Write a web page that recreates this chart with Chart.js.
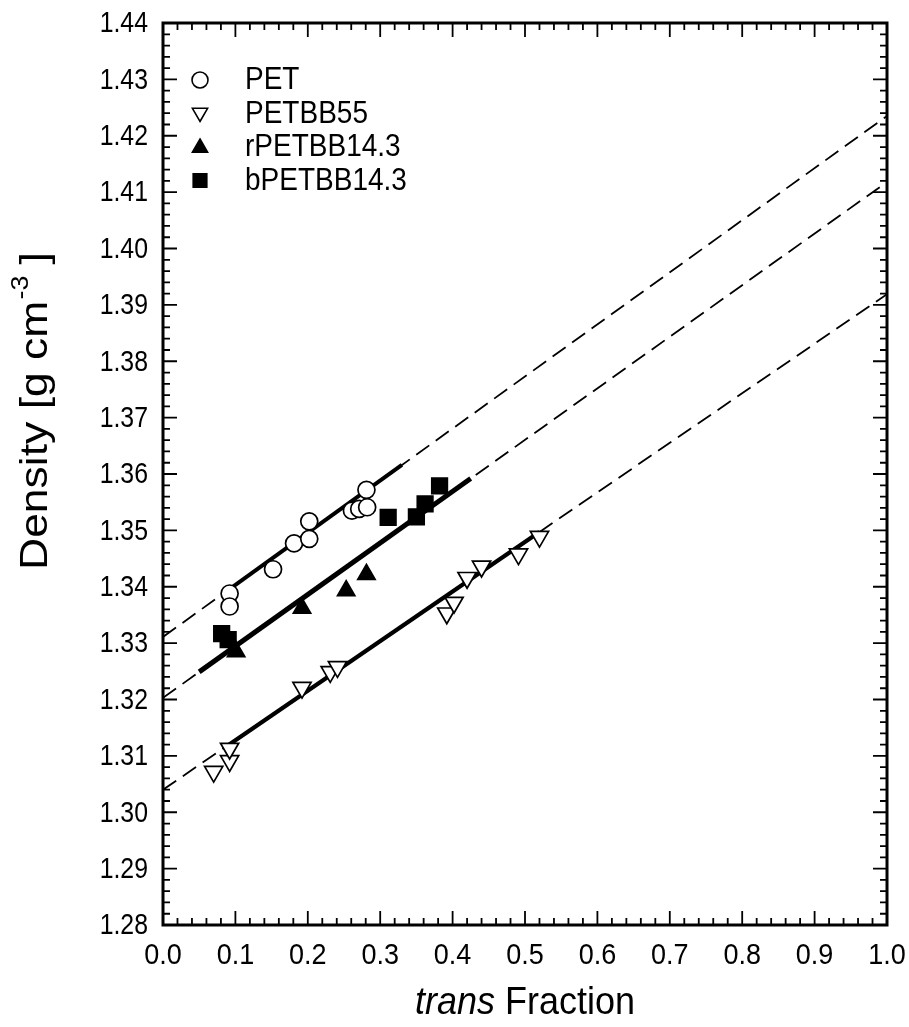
<!DOCTYPE html>
<html>
<head>
<meta charset="utf-8">
<script src="https://cdn.jsdelivr.net/npm/chart.js@4.4.1/dist/chart.umd.min.js"></script>
<style>
  body { margin: 0; background: #fff; }
  #wrap { width: 909px; height: 1027px; }
</style>
</head>
<body>
<div id="wrap"><canvas id="density" width="909" height="1027"></canvas></div>
<script>
// measured densities vs trans fraction
var petX = [0.092, 0.092, 0.152, 0.181, 0.202, 0.202, 0.261, 0.271, 0.282, 0.281]
var petY = [1.3388, 1.3365, 1.3431, 1.3477, 1.3485, 1.3516, 1.3535, 1.3538, 1.3541, 1.3572]

var bb55X = [0.070, 0.092, 0.092, 0.192, 0.231, 0.241, 0.392, 0.402, 0.420, 0.440, 0.491, 0.520]
var bb55Y = [1.3072, 1.3091, 1.3113, 1.3221, 1.3249, 1.3258, 1.3353, 1.3372, 1.3416, 1.3436, 1.3458, 1.3489]

var rX = [0.101, 0.192, 0.253, 0.281]
var rY = [1.3285, 1.3362, 1.3393, 1.3422]

var bX = [0.081, 0.090, 0.311, 0.350, 0.362, 0.382]
var bY = [1.3317, 1.3306, 1.3523, 1.3524, 1.3547, 1.3579]

// fitted lines: full range (dashed) and range of data (solid)
var petFitX = [0, 1], petFitY = [1.3311, 1.4235]
var petSolidX = [0.09, 0.33], petSolidY = [1.3394, 1.3616]
var bbFitX = [0, 1], bbFitY = [1.3203, 1.4118]
var bbSolidX = [0.05, 0.425], bbSolidY = [1.3249, 1.3592]
var bb55FitX = [0, 1], bb55FitY = [1.3040, 1.3919]
var bb55SolidX = [0.09, 0.52], bb55SolidY = [1.3119, 1.3497]

var legendNames = ['PET', 'PETBB55', 'rPETBB14.3', 'bPETBB14.3']
var legendStyles = ['circle', 'triangleDown', 'triangle', 'rect']

var FONT = '"Liberation Sans", Arial, Helvetica, sans-serif'

function pts(xs, ys) {
    return xs.map((x, i) => ({ x: x, y: ys[i] }))
}

function markerSet(label, xs, ys, style, filled, radius) {
    return {
        label: label,
        data: pts(xs, ys),
        showLine: false,
        pointStyle: style == 'triangleDown' ? 'triangle' : style,
        pointRotation: style == 'triangleDown' ? 180 : 0,
        pointRadius: radius,
        pointBackgroundColor: filled ? '#000' : '#fff',
        pointBorderColor: '#000',
        pointBorderWidth: 1.7,
        order: 0
    }
}

function lineSet(xs, ys, width, dash) {
    return {
        data: pts(xs, ys),
        showLine: true,
        borderColor: '#000',
        borderWidth: width,
        borderDash: dash,
        pointRadius: 0,
        fill: false,
        order: 1
    }
}

// small marker shapes for the legend box
function drawMarker(ctx, style, x, y, r) {
    ctx.save()
    ctx.lineWidth = 1.6
    ctx.strokeStyle = '#000'
    ctx.fillStyle = (style == 'circle' || style == 'triangleDown') ? '#fff' : '#000'
    ctx.beginPath()
    if (style == 'circle') {
        ctx.arc(x, y, r, 0, Math.PI * 2)
    } else if (style == 'rect') {
        ctx.rect(x - r * 0.85, y - r * 0.85, r * 1.7, r * 1.7)
    } else {
        var s = style == 'triangle' ? 1 : -1
        ctx.moveTo(x, y - s * r)
        ctx.lineTo(x + r * 0.95, y + s * r * 0.65)
        ctx.lineTo(x - r * 0.95, y + s * r * 0.65)
        ctx.closePath()
    }
    ctx.fill()
    ctx.stroke()
    ctx.restore()
}

var framePlugin = {
    id: 'frame',
    afterDraw(chart) {
        var ctx = chart.ctx
        var a = chart.chartArea
        var xs = chart.scales.x, ys = chart.scales.y
        ctx.save()
        ctx.strokeStyle = '#000'
        ctx.fillStyle = '#000'

        // inward ticks on all four sides
        ctx.lineWidth = 1.8
        ctx.beginPath()
        for (var i = 0; i <= 50; i++) {
            var v = xs.min + i * 0.02
            var px = xs.getPixelForValue(v)
            var len = i % 5 == 0 ? 14 : 7
            ctx.moveTo(px, a.bottom); ctx.lineTo(px, a.bottom - len)
            ctx.moveTo(px, a.top); ctx.lineTo(px, a.top + len)
        }
        for (var j = 0; j <= 80; j++) {
            var w = ys.min + j * 0.002
            var py = ys.getPixelForValue(w)
            var l2 = j % 5 == 0 ? 14 : 7
            ctx.moveTo(a.left, py); ctx.lineTo(a.left + l2, py)
            ctx.moveTo(a.right, py); ctx.lineTo(a.right - l2, py)
        }
        ctx.stroke()

        ctx.lineWidth = 3
        ctx.strokeRect(a.left, a.top, a.right - a.left, a.bottom - a.top)

        // tick labels, drawn slightly tall
        ctx.font = '27px ' + FONT
        ctx.textBaseline = 'middle'
        ctx.textAlign = 'right'
        ys.ticks.forEach(t => {
            ctx.save()
            ctx.translate(a.left - 15, ys.getPixelForValue(t.value) + 1)
            ctx.scale(0.92, 1.12)
            ctx.fillText(t.value.toFixed(2), 0, 0)
            ctx.restore()
        })
        ctx.textAlign = 'center'
        xs.ticks.forEach(t => {
            ctx.save()
            ctx.translate(xs.getPixelForValue(t.value), a.bottom + 31)
            ctx.scale(1, 1.12)
            ctx.fillText(t.value.toFixed(1), 0, 0)
            ctx.restore()
        })

        // x title: "trans" in italics
        ctx.textBaseline = 'middle'
        ctx.textAlign = 'left'
        var it = 'italic 36px ' + FONT, up = '36px ' + FONT
        ctx.font = it
        var w1 = ctx.measureText('trans').width
        ctx.font = up
        var w2 = ctx.measureText(' Fraction').width
        var x0 = (a.left + a.right) / 2 - (w1 + w2) / 2
        ctx.save()
        ctx.translate(0, 1003)
        ctx.scale(1, 1.1)
        ctx.font = it
        ctx.fillText('trans', x0, 0)
        ctx.font = up
        ctx.fillText(' Fraction', x0 + w1, 0)
        ctx.restore()

        // y title with superscript
        var big = '38px ' + FONT, small = '23px ' + FONT
        ctx.save()
        ctx.translate(37, 411)
        ctx.rotate(-Math.PI / 2)
        ctx.scale(1.17, 1)
        var main = 'Density [g cm', sup = '-3', end = ' ]'
        ctx.font = big
        var m1 = ctx.measureText(main).width
        var m3 = ctx.measureText(end).width
        ctx.font = small
        var m2 = ctx.measureText(sup).width
        var sx = -(m1 + m2 + m3) / 2
        ctx.font = big
        ctx.fillText(main, sx, 0)
        ctx.font = small
        ctx.fillText(sup, sx + m1 + 1, -15)
        ctx.font = big
        ctx.fillText(end, sx + m1 + m2, 0)
        ctx.restore()

        // legend
        ctx.font = '28px ' + FONT
        ctx.textAlign = 'left'
        ctx.textBaseline = 'middle'
        legendNames.forEach((name, k) => {
            var ly = 80 + k * 33.5
            drawMarker(ctx, legendStyles[k], 200, ly, 8)
            ctx.fillStyle = '#000'
            ctx.save()
            ctx.translate(245, ly + 1)
            ctx.scale(1, 1.1)
            ctx.fillText(name, 0, 0)
            ctx.restore()
        })
        ctx.restore()
    }
}

var ctx = document.getElementById('density').getContext('2d')
var chart = new Chart(ctx, {
    type: 'scatter',
    data: {
        datasets: [
            markerSet('PET', petX, petY, 'circle', false, 8.5),
            markerSet('PETBB55', bb55X, bb55Y, 'triangleDown', false, 10.5),
            markerSet('rPETBB14.3', rX, rY, 'triangle', true, 10),
            markerSet('bPETBB14.3', bX, bY, 'rect', true, 11),
            lineSet(petFitX, petFitY, 1.8, [16, 8]),
            lineSet(bbFitX, bbFitY, 1.8, [16, 8]),
            lineSet(bb55FitX, bb55FitY, 1.8, [16, 8]),
            lineSet(petSolidX, petSolidY, 4, []),
            lineSet(bbSolidX, bbSolidY, 5, []),
            lineSet(bb55SolidX, bb55SolidY, 4.2, [])
        ]
    },
    options: {
        responsive: false,
        animation: false,
        devicePixelRatio: 1,
        layout: { padding: { top: 23, right: 22, left: 0, bottom: 0 } },
        plugins: { legend: { display: false }, tooltip: { enabled: false } },
        scales: {
            x: {
                type: 'linear', min: 0, max: 1,
                ticks: { display: false, stepSize: 0.1 },
                grid: { display: false }, border: { display: false },
                afterFit: s => { s.height = 102 }
            },
            y: {
                type: 'linear', min: 1.28, max: 1.44,
                ticks: { display: false, stepSize: 0.01 },
                grid: { display: false }, border: { display: false },
                afterFit: s => { s.width = 163 }
            }
        }
    },
    plugins: [framePlugin]
});
</script>
</body>
</html>
